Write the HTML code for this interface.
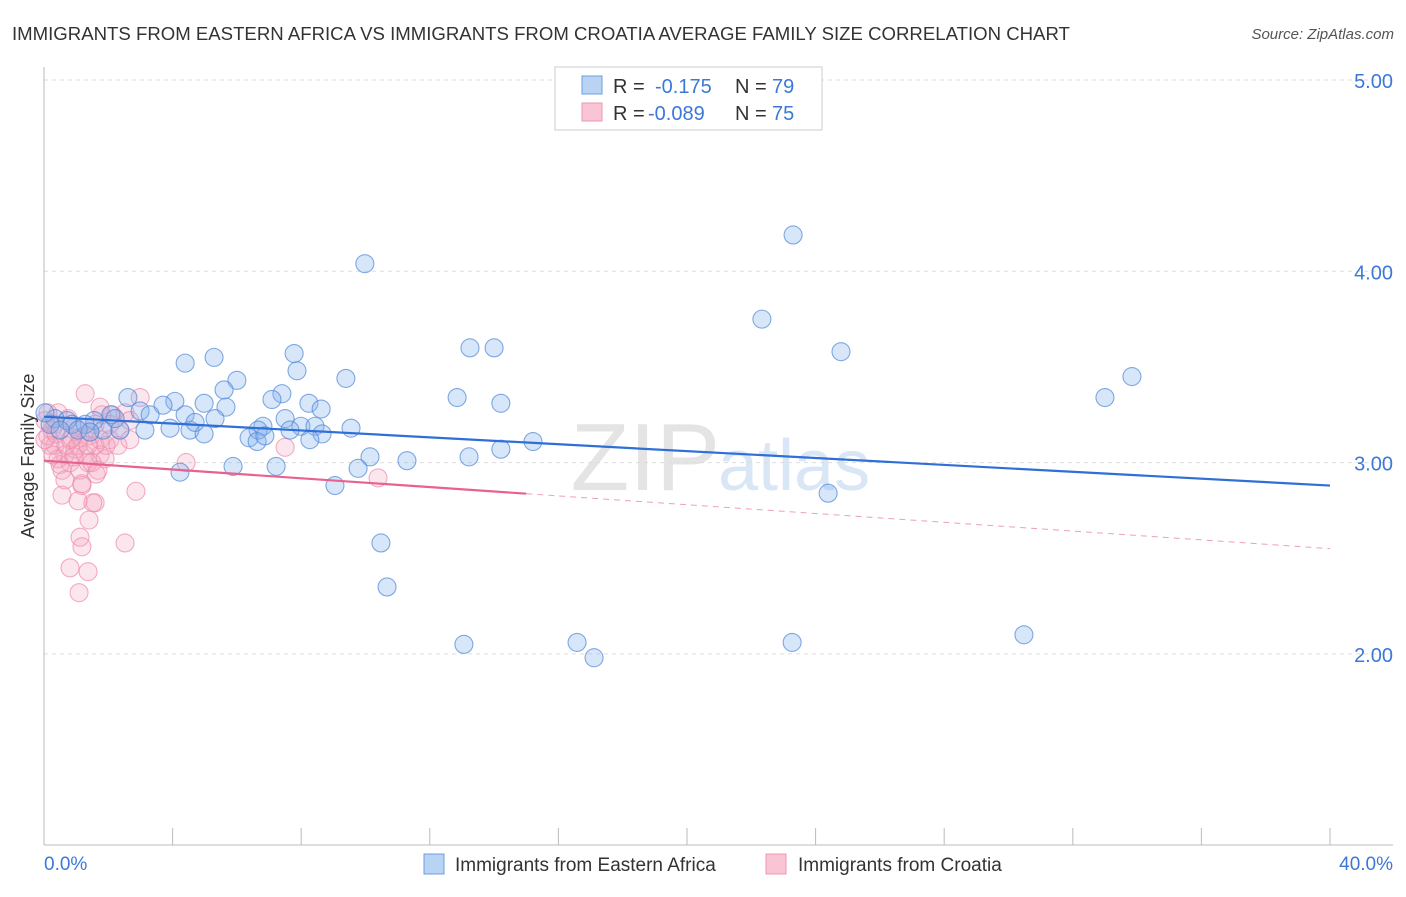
<!DOCTYPE html>
<html><head><meta charset="utf-8"><style>
body{margin:0;background:#fff;font-family:"Liberation Sans",sans-serif;}
svg text{font-family:"Liberation Sans",sans-serif;}
</style></head><body>
<svg id="chart" width="1406" height="892">
<text x="12" y="40" font-size="18.6" fill="#333">IMMIGRANTS FROM EASTERN AFRICA VS IMMIGRANTS FROM CROATIA AVERAGE FAMILY SIZE CORRELATION CHART</text>
<text x="1394" y="39" font-size="15" fill="#555" text-anchor="end" font-style="italic">Source: ZipAtlas.com</text>
<text x="720" y="490" font-size="96" fill="#e4e4e4" text-anchor="end" font-family="Liberation Serif">ZIP</text>
<text x="718" y="490" font-size="72" fill="#d8e6f5">atlas</text>
<g id="grid"></g><g id="axes"></g><g id="pts"></g><g id="trends"></g>
<text x="34" y="456" font-size="18" fill="#333" text-anchor="middle" transform="rotate(-90 34 456)">Average Family Size</text>
<g>
<rect x="555" y="67" width="267" height="63" fill="#fff" stroke="#ccc"/>
<rect x="582" y="76" width="20" height="18" fill="#b9d3f3" stroke="#6d9ee0"/>
<rect x="582" y="103" width="20" height="18" fill="#f9c5d5" stroke="#ec97b2"/>
<text x="613" y="93" font-size="20" fill="#333">R =</text>
<text x="655" y="93" font-size="20" fill="#3c78d8">-0.175</text>
<text x="735" y="93" font-size="20" fill="#333">N =</text>
<text x="772" y="93" font-size="20" fill="#3c78d8">79</text>
<text x="613" y="120" font-size="20" fill="#333">R =</text>
<text x="648" y="120" font-size="20" fill="#3c78d8">-0.089</text>
<text x="735" y="120" font-size="20" fill="#333">N =</text>
<text x="772" y="120" font-size="20" fill="#3c78d8">75</text>
</g>
<g>
<rect x="424" y="854" width="20" height="20" fill="#b9d3f3" stroke="#6d9ee0"/>
<text x="455" y="871" font-size="19" fill="#333">Immigrants from Eastern Africa</text>
<rect x="766" y="854" width="20" height="20" fill="#f9c5d5" stroke="#ec97b2"/>
<text x="798" y="871" font-size="19" fill="#333">Immigrants from Croatia</text>
</g>
</svg>
<script>
const yTicks=[2,3,4,5];
const yTickLabels=["2.00","3.00","4.00","5.00"];
const xTickVals=[0,4,8,12,16,20,24,28,32,36,40];
const xEndLabels=["0.0%","40.0%"];
const blueX=[9.98,23.3,22.33,24.79,13.25,14.0,4.39,5.29,7.78,7.87,6.0,9.39,5.6,7.4,4.98,4.07,3.7,2.61,2.99,2.08,1.56,0.72,0.34,0.19,0.87,1.28,1.84,2.36,3.14,3.92,4.54,4.98,5.66,7.09,8.24,8.62,7.5,6.81,6.66,6.38,6.63,7.99,8.43,8.65,9.55,5.32,12.85,14.21,15.21,14.21,13.22,10.14,9.77,11.29,9.05,5.88,7.22,4.23,10.48,10.67,13.06,16.58,17.11,23.27,30.48,24.39,33.0,33.84,0.5,1.06,2.21,1.43,3.3,4.39,4.7,6.87,7.65,8.27,0.03];
const blueY=[4.04,4.19,3.75,3.58,3.60,3.60,3.52,3.55,3.57,3.48,3.43,3.44,3.38,3.36,3.31,3.32,3.30,3.34,3.27,3.25,3.22,3.22,3.23,3.20,3.20,3.20,3.17,3.17,3.17,3.18,3.17,3.15,3.29,3.33,3.31,3.28,3.23,3.19,3.17,3.13,3.11,3.19,3.19,3.15,3.18,3.23,3.34,3.31,3.11,3.07,3.03,3.03,2.97,3.01,2.88,2.98,2.98,2.95,2.58,2.35,2.05,2.06,1.98,2.06,2.10,2.84,3.34,3.45,3.17,3.17,3.23,3.16,3.25,3.25,3.21,3.14,3.17,3.12,3.26];
const pinkX=[0.44,0.12,0.25,0.81,1.12,1.4,0.34,0.65,0.96,1.28,1.59,1.74,1.43,2.05,1.74,1.9,0.81,0.5,1.12,1.62,0.65,1.18,0.56,1.06,1.59,1.18,1.52,1.4,1.12,1.18,0.81,1.37,1.09,2.52,2.86,4.42,2.52,2.12,2.99,1.28,1.74,7.5,10.39,0.34,0.75,0.96,0.03,0.19,0.44,1.37,1.93,0.87,2.36,2.67,1.59,0.56,1.8,0.12,0.28,0.68,1.06,1.37,2.05,2.3,0.03,0.37,0.93,1.49,2.67,1.68];
const pinkY=[3.26,3.26,3.17,3.12,3.13,3.14,3.09,3.04,3.07,3.04,3.09,3.12,3.16,3.12,3.04,3.02,3.00,2.99,2.96,2.94,2.91,2.88,2.83,2.80,2.79,2.89,2.79,2.70,2.61,2.56,2.45,2.43,2.32,2.58,2.85,3.00,3.26,3.25,3.34,3.36,3.29,3.08,2.92,3.20,3.23,3.19,3.22,3.09,3.02,3.00,3.09,3.13,3.17,3.22,3.20,2.96,3.25,3.14,3.04,3.09,3.09,3.09,3.20,3.09,3.12,3.15,3.03,3.00,3.12,2.96];
const blueTrend=[3.24,2.88];
const pinkTrend=[3.01,2.55];
const pinkSolidEnd=15;
const NS='http://www.w3.org/2000/svg';
const X=v=>44+v*32.15, Y=v=>80+(5-v)*191.3;
function mk(tag,attrs,parent){const e=document.createElementNS(NS,tag);for(const k in attrs)e.setAttribute(k,attrs[k]);document.getElementById(parent).appendChild(e);return e;}
yTicks.forEach((t,i)=>{
 const g=mk('line',{x1:44,x2:1393,y1:Y(t),y2:Y(t),stroke:'#ddd','stroke-dasharray':'4,4'},'grid');
 
 
 const l=mk('text',{x:1393,y:Y(t)+8,'font-size':20,fill:'#3c78d8','text-anchor':'end'},'grid');
 l.textContent=yTickLabels[i];
 
 
});
const ax=mk('line',{x1:44,x2:44,y1:67,y2:845,stroke:'#bbb'},'axes');


const bx=mk('line',{x1:44,x2:1393,y1:845,y2:845,stroke:'#bbb'},'axes');


xTickVals.forEach(t=>{
 const k=mk('line',{x1:X(t),x2:X(t),y1:828,y2:845,stroke:'#bbb'},'axes');
 
 
});
[[0,'start'],[40,'end']].forEach((p,i)=>{
 const l=mk('text',{x:i?1393:44,y:870,'font-size':19,fill:'#3c78d8','text-anchor':p[1]},'axes');
 l.textContent=xEndLabels[i];
 
 
});
function pt(x,y,fill,stroke,name){
 const c=mk('circle',{cx:X(x),cy:Y(y),r:9,fill:fill,stroke:stroke,'stroke-width':1.1},'pts');
 
 
}
pinkX.forEach((x,i)=>pt(x,pinkY[i],'rgba(245,165,192,0.28)','rgba(236,140,172,0.7)','croatia-point'));
blueX.forEach((x,i)=>pt(x,blueY[i],'rgba(130,178,235,0.32)','rgba(80,135,215,0.7)','eastern-africa-point'));
const bl=mk('line',{x1:X(0),y1:Y(blueTrend[0]),x2:X(40),y2:Y(blueTrend[1]),stroke:'#2f6fd6','stroke-width':2.2},'trends');


const pAt=x=>pinkTrend[0]+(pinkTrend[1]-pinkTrend[0])*x/40;
const ps=mk('line',{x1:X(0),y1:Y(pAt(0)),x2:X(pinkSolidEnd),y2:Y(pAt(pinkSolidEnd)),stroke:'#e8628f','stroke-width':2.2},'trends');


const pd=mk('line',{x1:X(pinkSolidEnd),y1:Y(pAt(pinkSolidEnd)),x2:X(40),y2:Y(pAt(40)),stroke:'#eda0b8','stroke-width':1,'stroke-dasharray':'6,5'},'trends');


</script>
</body></html>
